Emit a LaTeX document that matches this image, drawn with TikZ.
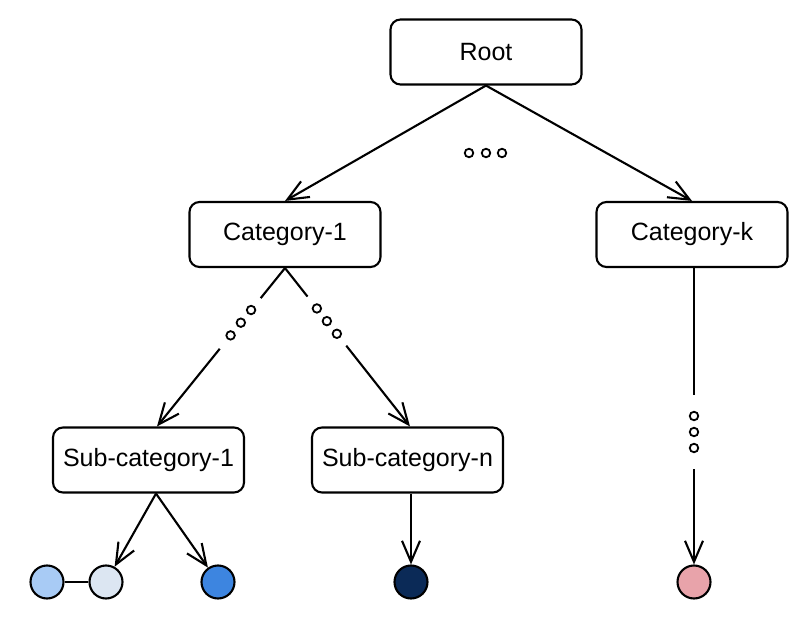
\documentclass[tikz,border=0pt]{standalone}
\usepackage{fontspec}
\setmainfont{Liberation Sans}
\usetikzlibrary{arrows.meta,calc}
\definecolor{leafA}{HTML}{A8CBF5}
\definecolor{leafB}{HTML}{DCE6F2}
\definecolor{leafC}{HTML}{3D85E0}
\definecolor{leafD}{HTML}{0B2A57}
\definecolor{leafE}{HTML}{E8A3AA}
\tikzset{
  catbox/.style={draw, line width=2.1pt, rounded corners=10pt, minimum width=191pt, minimum height=65pt, inner sep=0pt, font=\fontsize{25}{30}\selectfont},
  leaf/.style={draw, line width=2.1pt, circle, minimum size=33pt, inner sep=0pt},
  conn/.style={line width=2.1pt},
  arr/.style={conn, -{Straight Barb[length=21pt,width=18pt,line width=2.1pt]}},
  gapdot/.style={draw, line width=1.8pt, circle, minimum size=8.5pt, inner sep=0pt},
}
\begin{document}
\begin{tikzpicture}[x=1pt,y=-1pt]
\useasboundingbox (0,0) rectangle (798,631);
% boxes
\node[catbox] (root) at (486,52) {Root};
\node[catbox] (cat1) at (285,234.5) {Category-1};
\node[catbox] (catk) at (692,234.5) {Category-k};
\node[catbox] (sub1) at (148.5,460) {Sub-category-1};
\node[catbox] (subn) at (407.5,460) {Sub-category-n};
% leaves
\node[leaf, fill=leafA] (l1) at (47,582) {};
\node[leaf, fill=leafB] (l2) at (106,582) {};
\node[leaf, fill=leafC] (l3) at (218,582) {};
\node[leaf, fill=leafD] (l4) at (411,582) {};
\node[leaf, fill=leafE] (l5) at (694,582) {};
% root edges
\draw[arr] (root.south) -- (cat1.north);
\draw[arr] (root.south) -- (catk.north);
\node[gapdot] (rd1) at (469,153) {};
\node[gapdot] (rd2) at (486,153) {};
\node[gapdot] (rd3) at (502,153) {};
% category-1 to sub-category-1 (broken)
\coordinate (s1in) at ([xshift=8.5pt]sub1.north);
\coordinate (a1) at ($(cat1.south)!0.19!(s1in)$);
\coordinate (a2) at ($(cat1.south)!0.51!(s1in)$);
\draw[conn] (cat1.south) -- (a1);
\draw[arr] (a2) -- (s1in);
\node[gapdot] at ($(cat1.south)!0.265!(s1in)$) {};
\node[gapdot] at ($(cat1.south)!0.345!(s1in)$) {};
\node[gapdot] at ($(cat1.south)!0.425!(s1in)$) {};
% category-1 to sub-category-n (broken)
\coordinate (snin) at ([xshift=2.5pt]subn.north);
\coordinate (b1) at ($(cat1.south)!0.18!(snin)$);
\coordinate (b2) at ($(cat1.south)!0.49!(snin)$);
\draw[conn] (cat1.south) -- (b1);
\draw[arr] (b2) -- (snin);
\node[gapdot] at ($(cat1.south)!0.255!(snin)$) {};
\node[gapdot] at ($(cat1.south)!0.335!(snin)$) {};
\node[gapdot] at ($(cat1.south)!0.415!(snin)$) {};
% category-k to leaf (broken)
\coordinate (kout) at (l5 |- catk.south);
\coordinate (c1) at (694,395);
\coordinate (c2) at (694,469);
\draw[conn] (kout) -- (c1);
\draw[arr] (c2) -- (l5);
\node[gapdot] at (694,416) {};
\node[gapdot] at (694,432) {};
\node[gapdot] at (694,448) {};
% sub-category-1 to leaves
\coordinate (s1out) at ([xshift=7.5pt]sub1.south);
\draw[arr] (s1out) -- (l2);
\draw[arr] (s1out) -- (l3);
\draw[conn] (l1) -- (l2);
% sub-category-n to leaf
\draw[arr] (l4 |- subn.south) -- (l4);
\end{tikzpicture}
\end{document}
